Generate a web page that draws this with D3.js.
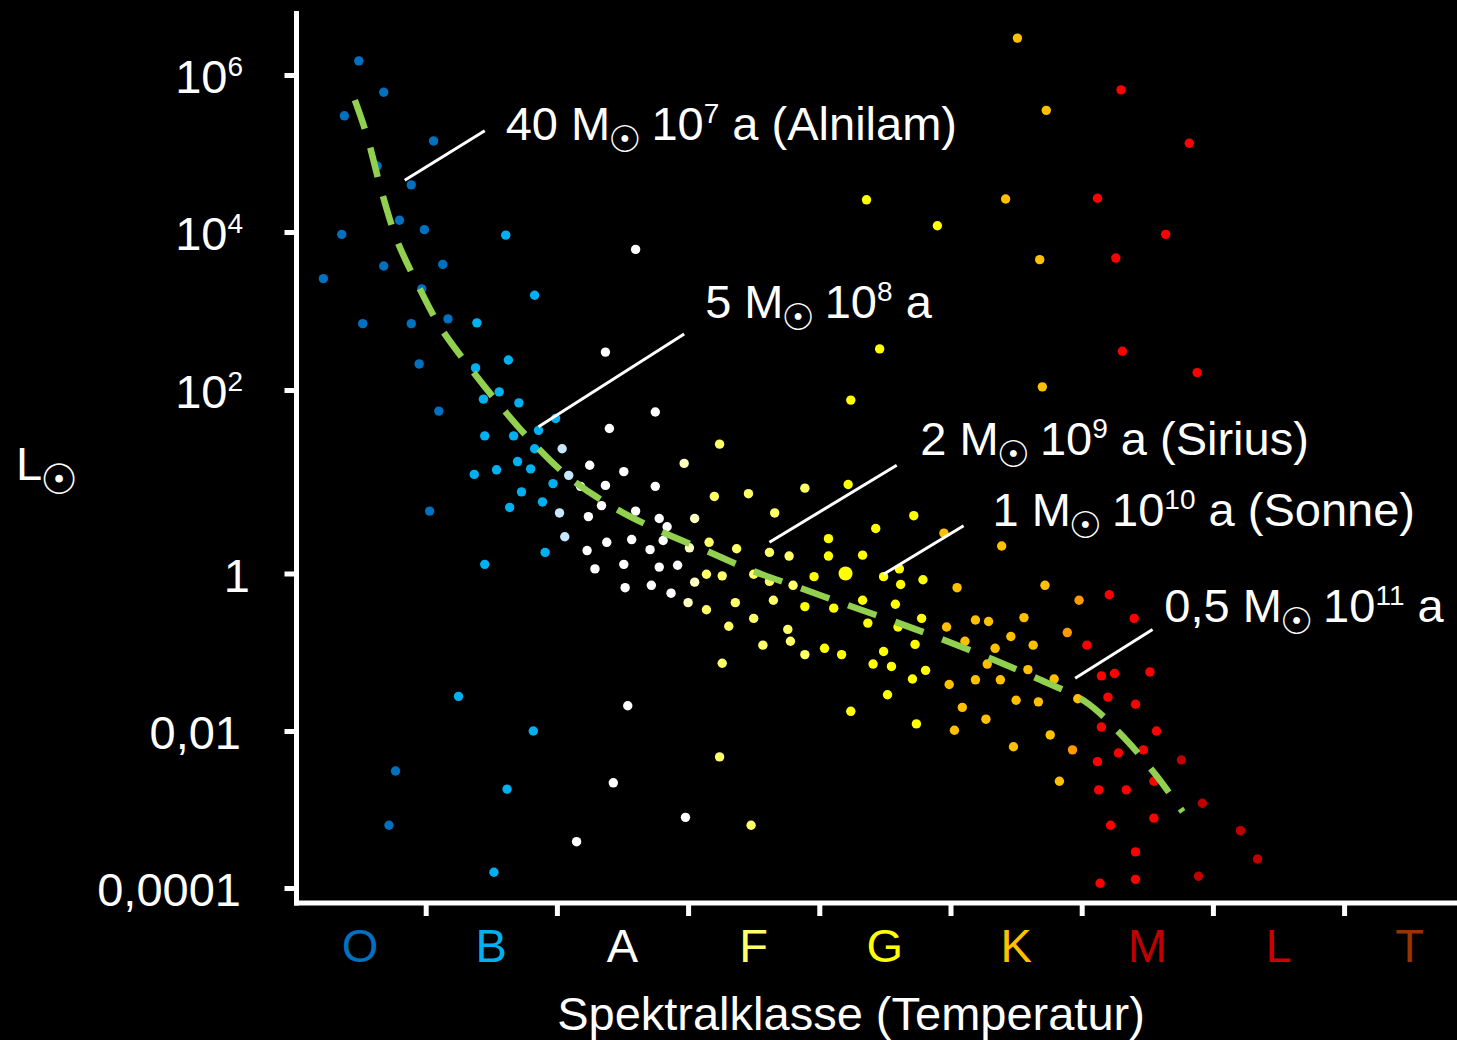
<!DOCTYPE html>
<html>
<head>
<meta charset="utf-8">
<script src="https://d3js.org/d3.v7.min.js"></script>
<style>
  body { margin: 0; background: #000; }
  svg { display: block; }
  text { font-family: "Liberation Sans", Arial, Helvetica, sans-serif; fill: #fff; }
  .sun { font-family: "DejaVu Sans", sans-serif; }
</style>
</head>
<body>
<script>
// Hertzsprung-Russell-Diagramm
// x = Spektralklasse (0 = O, 1 = B, ...), y = log10(L / L_sonne)

var classes = ["O", "B", "A", "F", "G", "K", "M", "L", "T"];

var yTicks = [-4, -2, 0, 2, 4, 6];
var yTickBase = ["0,0001", "0,01", "1", "10", "10", "10"];
var yTickExp = ["", "", "", "2", "4", "6"];

var oStars = [[0.49,6.18],[0.68,5.78],[0.38,5.48],[1.06,5.16],[0.63,4.84],[0.89,4.60],[0.80,4.15],
  [0.99,4.03],[0.36,3.97],[0.68,3.57],[1.13,3.59],[0.22,3.41],[0.97,3.28],[0.52,2.84],[0.89,2.84],
  [1.17,2.90],[0.95,2.33],[1.10,1.77],[1.03,0.68],[0.77,-2.51],[0.72,-3.20]];

var bStars = [[1.39,2.85],[1.61,3.96],[1.83,3.20],[1.38,2.28],[1.63,2.38],[1.56,1.98],[1.44,1.90],
  [1.71,1.86],[1.99,1.69],[1.86,1.56],[1.45,1.50],[1.67,1.50],[1.83,1.36],[1.70,1.22],[1.54,1.13],
  [1.80,1.14],[1.37,1.08],[1.97,0.98],[1.73,0.89],[1.89,0.78],[1.64,0.72],[1.91,0.23],[1.45,0.10],
  [1.25,-1.56],[1.82,-2.00],[1.62,-2.74],[1.52,-3.80]];

var lightBStars = [[2.04,1.36],[2.09,1.07],[2.02,0.66],[2.06,0.40]];

var aStars = [[2.60,3.78],[2.37,2.48],[2.75,1.76],[2.40,1.58],[2.25,1.18],[2.51,1.11],[2.18,0.95],
  [2.37,0.96],[2.75,0.95],[2.34,0.74],[2.24,0.62],[2.60,0.68],[2.78,0.60],[2.84,0.51],[2.57,0.37],
  [2.38,0.34],[2.23,0.25],[2.71,0.26],[2.81,0.36],[2.51,0.10],[2.29,0.05],[2.78,0.07],[2.92,0.09],
  [2.52,-0.18],[2.72,-0.15],[2.87,-0.25],[2.54,-1.68],[2.43,-2.66],[2.15,-3.41],[2.98,-3.10]];

var paleStars = [[2.97,1.20],[3.05,0.60],[3.01,0.28],[3.05,-0.11],[3.00,-0.37]];

var fStars = [[3.24,1.41],[3.20,0.84],[3.46,0.87],[3.66,0.66],[3.89,0.93],[3.16,0.34],[3.37,0.27],
  [3.62,0.23],[3.77,0.19],[3.14,-0.01],[3.26,-0.03],[3.50,-0.01],[3.62,-0.10],[3.80,-0.15],
  [3.36,-0.37],[3.65,-0.34],[3.14,-0.46],[3.50,-0.57],[3.31,-0.67],[3.76,-0.71],[3.78,-0.86],
  [3.57,-0.91],[3.26,-1.14],[3.89,-1.03],[3.24,-2.33],[3.48,-3.20]];

var gStars = [[4.36,4.41],[4.90,4.08],[4.46,2.52],[4.24,1.89],[4.22,0.97],[4.72,0.63],[4.43,0.49],
  [4.07,0.38],[4.07,0.19],[4.33,0.20],[4.49,-0.04],[4.61,0.05],[4.62,-0.14],[4.79,-0.08],
  [3.96,-0.04],[3.89,-0.42],[4.11,-0.44],[4.33,-0.34],[4.58,-0.39],[4.78,-0.57],[4.37,-0.63],
  [4.60,-0.68],[4.04,-0.95],[4.17,-1.03],[4.49,-0.99],[4.73,-0.90],[4.41,-1.15],[4.55,-1.18],
  [4.81,-1.23],[4.71,-1.34],[4.52,-1.54],[4.24,-1.75],[4.74,-1.91]];

var kStars = [[5.51,6.47],[5.73,5.55],[5.42,4.42],[5.68,3.65],[5.70,2.04],[4.95,0.44],[5.39,0.30],
  [5.05,-0.18],[5.72,-0.15],[4.97,-0.68],[5.19,-0.59],[5.29,-0.61],[5.56,-0.56],[5.11,-0.86],
  [5.34,-0.95],[5.46,-0.80],[5.63,-0.91],[5.28,-1.15],[5.59,-1.22],[4.99,-1.41],[5.19,-1.35],
  [5.38,-1.35],[5.79,-1.34],[5.50,-1.61],[5.67,-1.63],[5.09,-1.70],[5.27,-1.85],[5.03,-1.99],
  [5.76,-2.05],[5.48,-2.20],[5.83,-2.64],[5.97,-1.59]];

var darkKStars = [[5.98,-0.34],[5.89,-0.75],[5.93,-2.24]];

var mStars = [[6.30,5.81],[6.82,5.13],[6.12,4.43],[6.64,3.97],[6.26,3.67],[6.31,2.49],[6.88,2.22],
  [6.21,-0.27],[6.40,-0.57],[6.04,-0.91],[6.15,-1.30],[6.25,-1.27],[6.52,-1.25],[6.20,-1.57],
  [6.41,-1.66],[6.15,-1.95],[6.57,-2.00],[6.28,-2.28],[6.47,-2.24],[6.12,-2.39],[6.13,-2.75],
  [6.34,-2.75],[6.55,-2.64],[6.22,-3.20],[6.55,-3.11],[6.41,-3.54],[6.14,-3.94],[6.41,-3.89]];

var darkMStars = [[6.76,-2.37],[6.92,-2.92],[7.21,-3.27],[7.34,-3.63],[6.89,-3.85]];

var sun = [4.20, 0];

// Hauptreihe (gestrichelt)
var mainSequence = [[0.46,5.68],[0.55,5.24],[0.66,4.54],[0.78,3.90],[0.94,3.33],[1.11,2.80],
  [1.31,2.34],[1.55,1.86],[1.82,1.42],[2.10,1.04],[2.42,0.73],[2.76,0.48],[3.12,0.26],[3.49,0.03],
  [3.85,-0.18],[4.23,-0.41],[4.59,-0.62],[4.96,-0.85],[5.32,-1.09],[5.67,-1.34],[6.03,-1.63],
  [6.32,-2.08],[6.57,-2.57],[6.77,-3.03]];

// Beschriftungen: Masse, Alter (Exponent), Name
var annoMass = ["40", "5", "2", "1", "0,5"];
var annoExp = ["7", "8", "9", "10", "11"];
var annoName = [" (Alnilam)", "", " (Sirius)", " (Sonne)", ""];
var annoAnchor = [[0.84,4.66],[1.86,1.60],[3.62,0.34],[4.49,-0.01],[5.95,-1.33]];
var annoEnd = [[1.45,5.29],[2.97,2.71],[4.59,1.18],[5.10,0.52],[6.54,-0.71]];
var annoLabel = [[1.61,5.17],[3.13,2.91],[4.77,1.29],[5.32,0.52],[6.63,-0.62]];

var starGroups = [
  {data: oStars, color: "#0070c0"},
  {data: bStars, color: "#00b0f0"},
  {data: lightBStars, color: "#c5e8fb"},
  {data: aStars, color: "#ffffff"},
  {data: paleStars, color: "#ffffc0"},
  {data: fStars, color: "#ffff66"},
  {data: gStars, color: "#ffff00"},
  {data: kStars, color: "#ffc000"},
  {data: darkKStars, color: "#ff9900"},
  {data: mStars, color: "#ff0000"},
  {data: darkMStars, color: "#c00000"}
];
var classColors = ["#0070c0", "#00b0f0", "#ffffff", "#ffff66", "#ffff00", "#ffc000", "#c00000", "#cc0000", "#993300"];

//Set size

var svgwidth = 1457;
var svgheight = 1040;
var plotTop = 11;
var axisX = 296.5;
var axisY = 903;

var svg = d3.select("body")
            .append("svg")
            .attr("width", svgwidth)
            .attr("height", svgheight)
            .style("background", "#000");

//Scales (y is piecewise, as in the original picture)
var xScale = d3.scaleLinear()
        .domain([0, classes.length])
        .range([294.5, 294.5 + classes.length * 131.2]);

var yScale = d3.scaleLinear()
        .domain(yTicks)
        .range([888, 731, 573.5, 390, 232, 75]);

//Stars
starGroups.forEach(function(group) {
    svg.append("g").selectAll("circle")
        .data(group.data)
        .enter()
        .append("circle")
        .attr("cx", d => xScale(d[0]))
        .attr("cy", d => yScale(d[1]))
        .attr("r", 4.7)
        .attr("fill", group.color);
});

svg.append("circle")
    .attr("cx", xScale(sun[0]))
    .attr("cy", yScale(sun[1]))
    .attr("r", 7)
    .attr("fill", "#ffff00");

//Main sequence
var line = d3.line()
    .x(d => xScale(d[0]))
    .y(d => yScale(d[1]))
    .curve(d3.curveCatmullRom);

svg.append("path")
    .datum(mainSequence)
    .attr("d", line)
    .attr("fill", "none")
    .attr("stroke", "#92d050")
    .attr("stroke-width", 6.5)
    .attr("stroke-dasharray", "30,20");

//Axes
var leftAxis = d3.axisLeft(yScale).tickValues(yTicks).tickSize(12).tickFormat("");
var bottomAxis = d3.axisBottom(xScale).tickValues(d3.range(1, classes.length)).tickSize(13).tickFormat("");

var yAxisG = svg.append("g")
    .attr("transform", `translate(${axisX}, 0)`)
    .call(leftAxis);
var xAxisG = svg.append("g")
    .attr("transform", `translate(0, ${axisY})`)
    .call(bottomAxis);

[yAxisG, xAxisG].forEach(function(g) {
    g.select(".domain").remove();
    g.selectAll(".tick line").attr("stroke", "#fff").attr("stroke-width", 5);
});

svg.append("line")
    .attr("x1", axisX).attr("x2", axisX)
    .attr("y1", plotTop).attr("y2", axisY + 2.5)
    .attr("stroke", "#fff").attr("stroke-width", 5);
svg.append("line")
    .attr("x1", axisX - 2.5).attr("x2", svgwidth)
    .attr("y1", axisY).attr("y2", axisY)
    .attr("stroke", "#fff").attr("stroke-width", 5);

//Tick labels
yTicks.forEach(function(t, i) {
    var txt = svg.append("text")
        .attr("x", yTickExp[i] ? 243 : (t === 0 ? 250 : 241))
        .attr("y", yScale(t) + 18)
        .attr("text-anchor", "end")
        .attr("font-size", 47)
        .text(yTickBase[i]);
    if (yTickExp[i]) {
        txt.append("tspan")
            .attr("font-size", 28)
            .attr("dy", -17)
            .text(yTickExp[i]);
    }
});

svg.selectAll(".classLabel")
    .data(classes)
    .enter()
    .append("text")
    .attr("class", "classLabel")
    .attr("x", (d, i) => xScale(i + 0.5))
    .attr("y", 962)
    .attr("text-anchor", "middle")
    .attr("font-size", 47)
    .style("fill", (d, i) => classColors[i])
    .text(d => d);

//Axis titles
svg.append("text")
    .attr("x", 851)
    .attr("y", 1030)
    .attr("text-anchor", "middle")
    .attr("font-size", 47)
    .text("Spektralklasse (Temperatur)");

var yTitle = svg.append("text")
    .attr("x", 16)
    .attr("y", 480)
    .attr("font-size", 47)
    .text("L");
yTitle.append("tspan").attr("class", "sun").attr("font-size", 42).attr("dx", -2).attr("dy", 14).text("\u2609");

//Annotations
annoMass.forEach(function(m, i) {
    svg.append("line")
        .attr("x1", xScale(annoAnchor[i][0]))
        .attr("y1", yScale(annoAnchor[i][1]))
        .attr("x2", xScale(annoEnd[i][0]))
        .attr("y2", yScale(annoEnd[i][1]))
        .attr("stroke", "#fff")
        .attr("stroke-width", 3);

    var t = svg.append("text")
        .attr("x", xScale(annoLabel[i][0]))
        .attr("y", yScale(annoLabel[i][1]))
        .attr("font-size", 47)
        .text(m + " M");
    t.append("tspan").attr("class", "sun").attr("font-size", 37).attr("dx", -2).attr("dy", 12).text("\u2609");
    t.append("tspan").attr("dx", -3).attr("dy", -12).text(" 10");
    t.append("tspan").attr("font-size", 28).attr("dy", -17).text(annoExp[i]);
    t.append("tspan").attr("dy", 17).text(" a" + annoName[i]);
});
</script>
</body>
</html>
